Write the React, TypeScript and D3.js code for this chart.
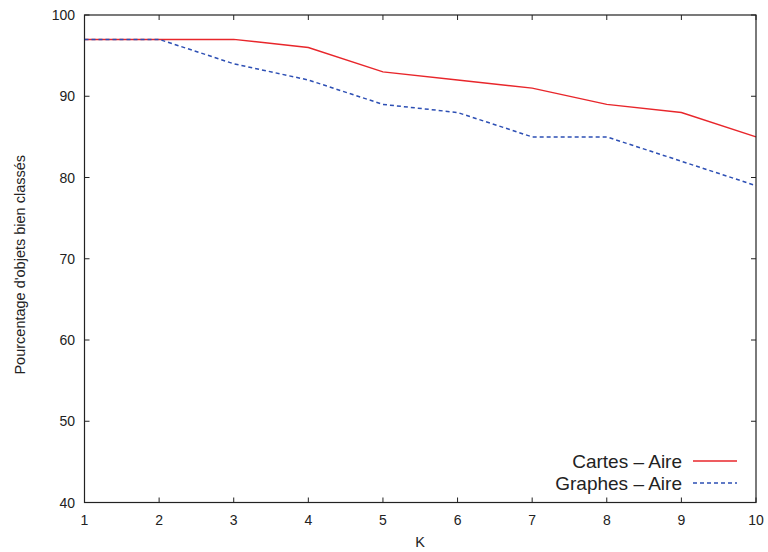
import React from "react";
import * as d3 from "d3";

const kValues = [1, 2, 3, 4, 5, 6, 7, 8, 9, 10];
const cartesAire = [97, 97, 97, 96, 93, 92, 91, 89, 88, 85];
const graphesAire = [97, 97, 94, 92, 89, 88, 85, 85, 82, 79];
const yTicks = [40, 50, 60, 70, 80, 90, 100];
const seriesNames = ["Cartes – Aire", "Graphes – Aire"];

export default function App() {
  const W = 768, H = 552;
  const L = 84.5, R = 756, T = 15, B = 502.5;
  const x = d3.scaleLinear().domain([1, 10]).range([L, R]);
  const y = d3.scaleLinear().domain([40, 100]).range([B, T]);
  const line = d3.line<number>().x((_, i) => x(kValues[i])).y((d) => y(d));
  const font = "Helvetica, 'Liberation Sans', Arial, sans-serif";
  const tl = 5;
  const series = [
    { name: seriesNames[0], data: cartesAire, color: "#e8262b", dash: undefined as string | undefined },
    { name: seriesNames[1], data: graphesAire, color: "#2d4fb4", dash: "4,3" },
  ];
  return (
    <svg width={W} height={H} style={{ position: "absolute", left: 0, top: 0 }} fontFamily={font}>
      <rect width={W} height={H} fill="#fff" />
      {series.map((s) => (
        <path key={s.name} d={line(s.data) || ""} fill="none" stroke={s.color} strokeWidth={1.5} strokeDasharray={s.dash} />
      ))}
      {kValues.map((k) => (
        <g key={k}>
          <line x1={x(k)} x2={x(k)} y1={B} y2={B - tl} stroke="#222" strokeWidth={1} />
          <line x1={x(k)} x2={x(k)} y1={T} y2={T + tl} stroke="#222" strokeWidth={1} />
          <text x={x(k)} y={524.5} textAnchor="middle" fontSize={14} fill="#222">{k}</text>
        </g>
      ))}
      {yTicks.map((v) => (
        <g key={v}>
          <line x1={L} x2={L + tl} y1={y(v)} y2={y(v)} stroke="#222" strokeWidth={1} />
          <line x1={R} x2={R - tl} y1={y(v)} y2={y(v)} stroke="#222" strokeWidth={1} />
          <text x={75} y={y(v) + 5} textAnchor="end" fontSize={14} fill="#222">{v}</text>
        </g>
      ))}
      <rect x={L} y={T} width={R - L} height={B - T} fill="none" stroke="#222" strokeWidth={1.2} />
      <text x={420} y={547} textAnchor="middle" fontSize={14.5} fill="#222">K</text>
      <text transform={`translate(25,${(T + B) / 2 + 6}) rotate(-90)`} textAnchor="middle" fontSize={14.5} fill="#222">Pourcentage d'objets bien classés</text>
      {series.map((s, i) => {
        const ly = 461 + i * 22;
        return (
          <g key={s.name}>
            <text x={682} y={ly + 7} textAnchor="end" fontSize={19} fill="#222">{s.name}</text>
            <line x1={693} x2={737} y1={ly} y2={ly} stroke={s.color} strokeWidth={1.5} strokeDasharray={s.dash} />
          </g>
        );
      })}
    </svg>
  );
}
